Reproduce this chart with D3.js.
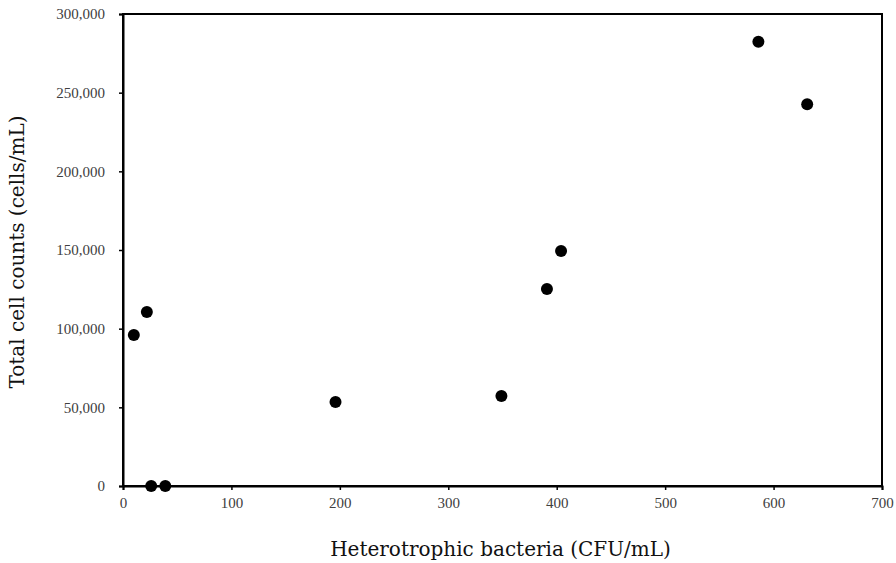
<!DOCTYPE html>
<html lang="en">
<head>
<meta charset="utf-8">
<title>Total cell counts vs heterotrophic bacteria</title>
<script src="https://d3js.org/d3.v7.min.js"></script>
<style>
body { margin: 0; background: #fff; }
.tick text { font-family: "Liberation Serif", "DejaVu Serif", serif; font-size: 15px; fill: #404040; }
.axis-title { font-family: "DejaVu Serif", serif; font-size: 20px; fill: #111; }
</style>
</head>
<body>
<div id="chart"></div>
<script>
// data
var hpcValues = [10, 22, 26, 39, 196, 349, 391, 404, 586, 631];
var cellValues = [96000, 110600, 0, 0, 53400, 57200, 125200, 149400, 282400, 242600];
var xTicks = [0, 100, 200, 300, 400, 500, 600, 700];
var yTicks = [0, 50000, 100000, 150000, 200000, 250000, 300000];

var margin = {top: 14, right: 14, bottom: 77, left: 123},
    width = 896 - margin.left - margin.right,
    height = 563 - margin.top - margin.bottom;

var svg = d3.select("#chart").append("svg")
    .attr("width", 896).attr("height", 563)
  .append("g")
    .attr("transform", "translate(" + margin.left + "," + margin.top + ")");

var x = d3.scaleLinear().domain([0, 700]).range([0, width]);
var y = d3.scaleLinear().domain([0, 300000]).range([height, 0]);

// frame
svg.append("rect")
    .attr("width", width).attr("height", height)
    .attr("fill", "none").attr("stroke", "#000").attr("stroke-width", 2);

var xAxis = svg.append("g")
    .attr("transform", "translate(0," + height + ")")
    .call(d3.axisBottom(x).tickValues(xTicks).tickSize(4).tickPadding(7));
var yAxis = svg.append("g")
    .call(d3.axisLeft(y).tickValues(yTicks).tickSize(4).tickPadding(14)
      .tickFormat(d3.format(",")));

[xAxis, yAxis].forEach(function(a) {
  a.select(".domain").attr("stroke", "#000").attr("stroke-width", 2);
  a.selectAll(".tick line").attr("stroke", "#000").attr("stroke-width", 1.5);
});

svg.selectAll("circle.pt")
  .data(hpcValues)
  .enter().append("circle")
    .attr("class", "pt")
    .attr("cx", function(d) { return x(d); })
    .attr("cy", function(d, i) { return y(cellValues[i]); })
    .attr("r", 6)
    .attr("fill", "#000");

svg.append("text")
    .attr("class", "axis-title")
    .attr("x", width / 2 - 2)
    .attr("y", height + 70)
    .attr("text-anchor", "middle")
    .text("Heterotrophic bacteria (CFU/mL)");

svg.append("text")
    .attr("class", "axis-title")
    .attr("transform", "rotate(-90)")
    .attr("x", -height / 2 - 2)
    .attr("y", -99)
    .attr("text-anchor", "middle")
    .text("Total cell counts (cells/mL)");
</script>
</body>
</html>
